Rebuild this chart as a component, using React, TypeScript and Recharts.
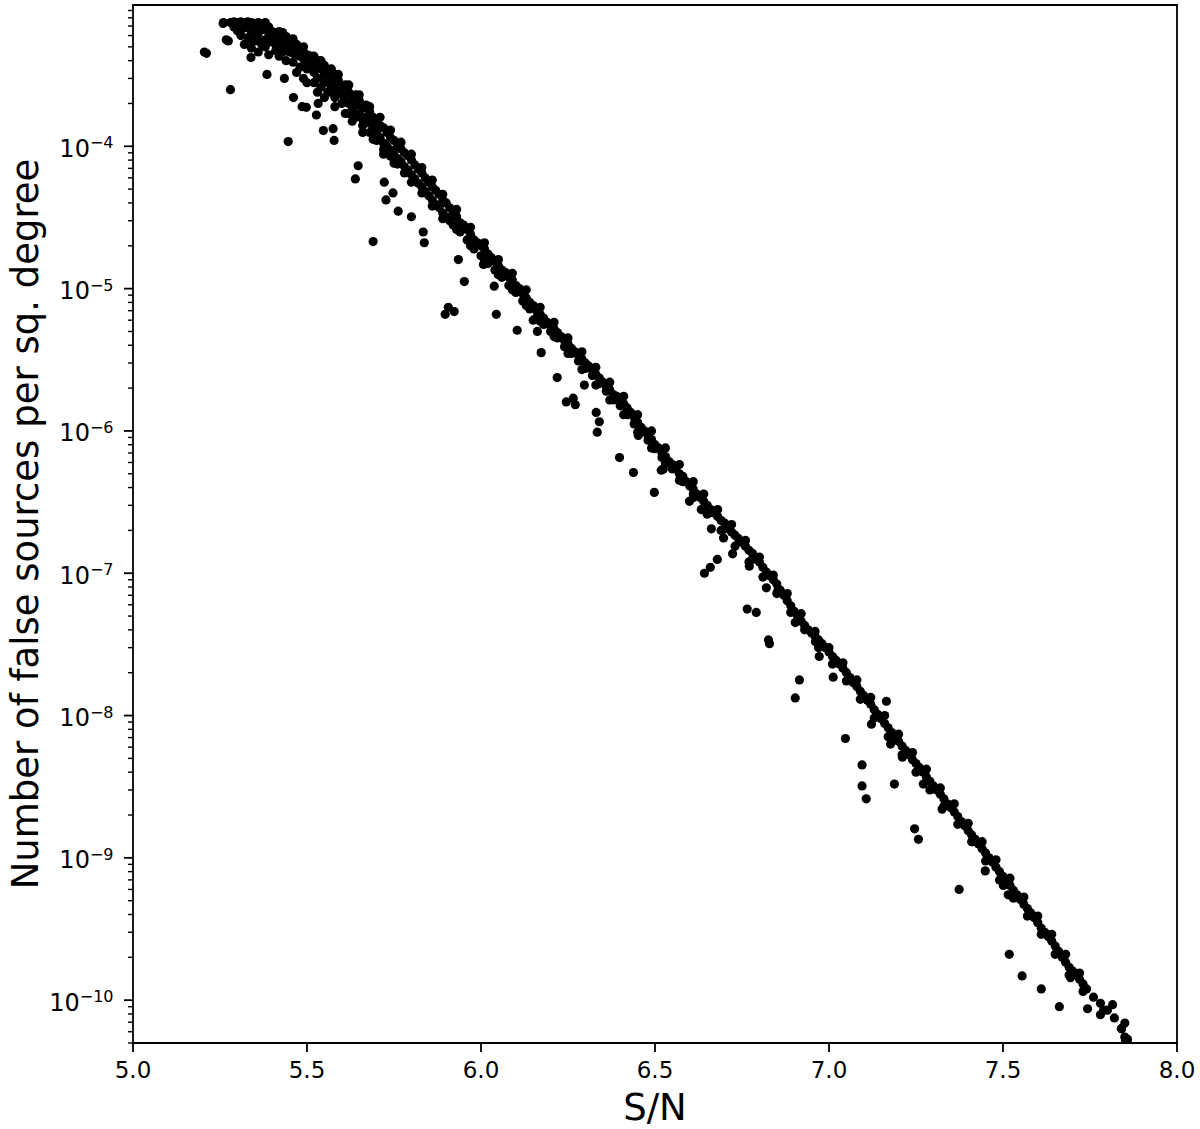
import React from 'react';
import { ScatterChart, Scatter, XAxis, YAxis, ReferenceArea } from 'recharts';

// S/N tick values on the x axis
const SNR_TICKS = [5.0, 5.5, 6.0, 6.5, 7.0, 7.5, 8.0];

// log axis: decades and mantissas used for major/minor ticks
const DECADES = [-11, -10, -9, -8, -7, -6, -5, -4];
const MANTISSAS = [1, 2, 3, 4, 5, 6, 7, 8, 9];
const Y_MIN = 5e-11;
const Y_MAX = 9.84e-4;

// [S/N, false sources per sq. degree]

// dense cluster at the high end
const topCluster: [number, number][] = [
  [5.26, 7.4e-4], [5.28, 7.4e-4], [5.29, 7.5e-4], [5.30, 7.4e-4], [5.31, 7.5e-4], [5.32, 7.4e-4], [5.33, 7.5e-4],
  [5.34, 7.4e-4], [5.35, 7.3e-4], [5.36, 7.4e-4], [5.37, 7.2e-4], [5.38, 7.4e-4],
  [5.29, 6.9e-4], [5.30, 7.1e-4], [5.30, 6.5e-4], [5.31, 6.0e-4], [5.31, 6.6e-4], [5.32, 6.8e-4], [5.33, 5.8e-4],
  [5.33, 6.9e-4], [5.34, 6.4e-4], [5.34, 5.6e-4], [5.35, 5.5e-4], [5.35, 6.1e-4], [5.35, 6.8e-4], [5.36, 6.2e-4],
  [5.36, 5.6e-4], [5.37, 5.2e-4], [5.37, 6.6e-4], [5.38, 6.6e-4], [5.38, 5.6e-4], [5.39, 5.9e-4], [5.39, 6.9e-4],
  [5.40, 6.4e-4], [5.40, 5.9e-4], [5.32, 5.2e-4], [5.34, 4.9e-4], [5.36, 4.6e-4], [5.38, 5.0e-4], [5.39, 4.4e-4],
  [5.40, 5.4e-4], [5.41, 4.7e-4], [5.41, 6.1e-4], [5.41, 5.2e-4], [5.42, 5.7e-4], [5.42, 4.3e-4], [5.42, 6.4e-4],
  [5.43, 5.1e-4], [5.43, 6.3e-4], [5.43, 4.6e-4], [5.44, 5.9e-4], [5.44, 4.0e-4], [5.44, 5.3e-4], [5.45, 4.6e-4],
  [5.45, 5.4e-4], [5.45, 5.0e-4], [5.46, 3.9e-4], [5.46, 5.0e-4], [5.46, 5.7e-4], [5.46, 4.5e-4], [5.47, 4.4e-4],
  [5.47, 5.2e-4], [5.47, 3.3e-4], [5.48, 4.8e-4], [5.48, 3.6e-4], [5.48, 4.3e-4], [5.49, 4.1e-4], [5.49, 5.0e-4],
  [5.49, 4.6e-4], [5.49, 3.0e-4], [5.50, 4.4e-4], [5.50, 3.5e-4], [5.50, 3.9e-4], [5.50, 2.8e-4], [5.51, 3.9e-4],
  [5.51, 4.3e-4], [5.51, 3.5e-4], [5.52, 3.3e-4], [5.52, 3.7e-4], [5.52, 4.3e-4], [5.52, 2.8e-4], [5.53, 4.0e-4],
  [5.53, 3.0e-4], [5.53, 2.4e-4], [5.53, 3.5e-4], [5.54, 3.5e-4], [5.54, 4.0e-4], [5.54, 2.6e-4], [5.55, 3.2e-4],
  [5.55, 3.7e-4], [5.55, 2.8e-4], [5.55, 2.2e-4], [5.56, 2.9e-4], [5.56, 3.3e-4], [5.56, 2.4e-4], [5.57, 3.0e-4],
  [5.57, 2.6e-4], [5.57, 3.5e-4], [5.57, 2.4e-4],
];

// main ridge of the band
const bandCore: [number, number][] = [
  [5.58, 2.8e-4], [5.58, 3.2e-4], [5.58, 2.2e-4], [5.58, 1.9e-4], [5.59, 2.5e-4], [5.59, 2.9e-4], [5.59, 3.2e-4],
  [5.60, 2.6e-4], [5.60, 2.3e-4], [5.60, 2.0e-4], [5.61, 2.7e-4], [5.61, 2.1e-4], [5.61, 1.7e-4], [5.62, 2.4e-4],
  [5.62, 2.0e-4], [5.62, 2.7e-4], [5.62, 1.7e-4], [5.63, 2.2e-4], [5.63, 1.8e-4], [5.63, 1.5e-4], [5.64, 2.3e-4],
  [5.64, 1.95e-4], [5.64, 1.6e-4], [5.65, 2.1e-4], [5.65, 1.7e-4], [5.65, 2.3e-4], [5.66, 1.85e-4], [5.66, 1.55e-4],
  [5.66, 1.4e-4], [5.66, 1.25e-4], [5.67, 1.95e-4], [5.67, 1.6e-4], [5.68, 1.75e-4], [5.68, 1.45e-4], [5.68, 1.9e-4],
  [5.68, 1.25e-4], [5.69, 1.6e-4], [5.69, 1.35e-4], [5.69, 1.12e-4], [5.70, 1.5e-4], [5.70, 1.25e-4], [5.70, 1.1e-4],
  [5.71, 1.4e-4], [5.71, 1.15e-4], [5.71, 1.6e-4], [5.72, 1.35e-4], [5.72, 1.05e-4], [5.72, 9.5e-5], [5.72, 8.8e-5],
  [5.73, 1.25e-4], [5.73, 1.0e-4], [5.74, 1.15e-4], [5.74, 9.4e-5], [5.74, 1.3e-4], [5.74, 8.5e-5], [5.75, 1.1e-4],
  [5.75, 8.8e-5], [5.75, 7.6e-5], [5.76, 1.0e-4], [5.76, 8.2e-5], [5.76, 7.5e-5], [5.77, 9.6e-5], [5.77, 7.8e-5],
  [5.77, 1.07e-4], [5.78, 9.0e-5], [5.78, 7.2e-5], [5.78, 6.5e-5], [5.79, 8.6e-5], [5.79, 6.8e-5], [5.80, 8.0e-5],
  [5.80, 6.3e-5], [5.80, 8.8e-5], [5.80, 5.6e-5], [5.81, 7.4e-5], [5.81, 5.9e-5], [5.82, 6.9e-5], [5.82, 5.5e-5],
  [5.83, 6.5e-5], [5.83, 5.2e-5], [5.83, 7.1e-5], [5.83, 4.7e-5], [5.84, 6.0e-5], [5.84, 4.8e-5], [5.85, 5.6e-5],
  [5.85, 4.5e-5], [5.86, 5.2e-5], [5.86, 4.2e-5], [5.86, 5.8e-5], [5.86, 3.8e-5], [5.87, 4.9e-5], [5.87, 3.9e-5],
  [5.88, 4.6e-5], [5.88, 3.7e-5], [5.89, 4.2e-5], [5.89, 3.4e-5], [5.89, 4.6e-5], [5.89, 3.1e-5], [5.90, 4.0e-5],
  [5.90, 3.2e-5], [5.91, 3.7e-5], [5.91, 3.0e-5], [5.92, 3.4e-5], [5.92, 2.8e-5], [5.93, 3.2e-5], [5.93, 3.6e-5],
  [5.93, 2.6e-5], [5.94, 2.9e-5], [5.94, 2.5e-5], [5.95, 2.8e-5], [5.96, 2.6e-5], [5.96, 2.2e-5], [5.97, 2.4e-5],
  [5.97, 2.7e-5], [5.97, 2.0e-5], [5.98, 2.2e-5], [5.98, 1.9e-5], [5.99, 2.1e-5], [6.00, 2.0e-5], [6.00, 1.7e-5],
  [6.01, 1.9e-5], [6.01, 2.1e-5], [6.01, 1.6e-5], [6.02, 1.75e-5], [6.02, 1.5e-5], [6.03, 1.65e-5], [6.04, 1.55e-5],
  [6.04, 1.35e-5], [6.05, 1.45e-5], [6.05, 1.6e-5], [6.05, 1.25e-5], [6.06, 1.35e-5], [6.06, 1.2e-5], [6.07, 1.3e-5],
  [6.08, 1.2e-5], [6.08, 1.05e-5], [6.09, 1.15e-5], [6.09, 1.28e-5], [6.09, 9.8e-6], [6.10, 1.05e-5], [6.10, 9.4e-6],
  [6.11, 1.0e-5], [6.12, 9.2e-6], [6.12, 8.2e-6], [6.13, 8.6e-6], [6.13, 9.8e-6], [6.13, 7.6e-6], [6.14, 8.0e-6],
  [6.14, 7.2e-6], [6.15, 7.6e-6], [6.16, 7.0e-6], [6.16, 6.3e-6], [6.17, 6.6e-6], [6.17, 7.4e-6], [6.17, 5.9e-6],
  [6.18, 6.2e-6], [6.18, 5.6e-6], [6.19, 5.8e-6], [6.20, 5.5e-6], [6.20, 5.0e-6], [6.21, 5.2e-6], [6.21, 5.8e-6],
  [6.21, 4.6e-6], [6.22, 4.9e-6], [6.22, 4.5e-6], [6.23, 4.6e-6], [6.24, 4.3e-6], [6.24, 3.9e-6], [6.25, 4.1e-6],
  [6.25, 4.5e-6], [6.25, 3.5e-6], [6.26, 3.8e-6], [6.26, 3.5e-6], [6.27, 3.6e-6], [6.28, 3.4e-6], [6.28, 3.1e-6],
  [6.29, 3.2e-6], [6.29, 3.6e-6], [6.29, 2.7e-6], [6.30, 3.0e-6], [6.30, 2.75e-6], [6.31, 2.85e-6], [6.32, 2.7e-6],
  [6.32, 2.45e-6], [6.33, 2.5e-6], [6.33, 2.8e-6], [6.33, 2.1e-6], [6.34, 2.35e-6], [6.34, 2.15e-6], [6.35, 2.2e-6],
  [6.36, 2.05e-6], [6.36, 1.9e-6], [6.37, 1.95e-6], [6.37, 2.2e-6], [6.37, 1.65e-6], [6.38, 1.8e-6], [6.38, 1.65e-6],
  [6.39, 1.75e-6], [6.40, 1.65e-6], [6.40, 1.5e-6], [6.41, 1.55e-6], [6.41, 1.75e-6], [6.41, 1.3e-6], [6.42, 1.45e-6],
  [6.42, 1.3e-6], [6.43, 1.35e-6], [6.44, 1.25e-6], [6.44, 1.12e-6], [6.45, 1.15e-6], [6.45, 1.3e-6], [6.45, 9.8e-7],
  [6.46, 1.06e-6], [6.46, 9.8e-7], [6.47, 1.0e-6], [6.48, 9.3e-7], [6.48, 8.6e-7], [6.49, 8.7e-7], [6.49, 1.0e-6],
  [6.49, 7.6e-7], [6.50, 8.0e-7], [6.50, 7.5e-7], [6.51, 7.6e-7], [6.52, 7.0e-7], [6.52, 6.5e-7], [6.53, 6.6e-7],
  [6.53, 7.6e-7], [6.53, 5.9e-7], [6.54, 6.1e-7], [6.55, 5.8e-7], [6.55, 5.4e-7], [6.56, 5.4e-7], [6.57, 5.0e-7],
  [6.57, 5.8e-7], [6.57, 4.5e-7], [6.58, 4.8e-7], [6.58, 4.4e-7], [6.59, 4.4e-7], [6.60, 4.1e-7], [6.61, 3.9e-7],
  [6.61, 3.6e-7], [6.61, 4.4e-7], [6.61, 3.4e-7], [6.62, 3.6e-7], [6.63, 3.4e-7], [6.64, 3.2e-7], [6.64, 3.6e-7],
  [6.65, 3.0e-7], [6.65, 2.8e-7], [6.65, 2.6e-7], [6.66, 2.8e-7], [6.67, 2.65e-7], [6.68, 2.5e-7], [6.68, 2.8e-7],
  [6.69, 2.35e-7], [6.69, 2.0e-7], [6.70, 2.25e-7], [6.70, 2.05e-7], [6.71, 2.1e-7], [6.72, 1.95e-7], [6.72, 2.2e-7],
  [6.73, 1.85e-7], [6.73, 1.55e-7], [6.74, 1.75e-7], [6.75, 1.65e-7], [6.76, 1.55e-7], [6.76, 1.7e-7], [6.77, 1.45e-7],
  [6.77, 1.2e-7], [6.78, 1.38e-7], [6.78, 1.25e-7], [6.79, 1.28e-7], [6.80, 1.2e-7], [6.80, 1.3e-7], [6.81, 1.1e-7],
  [6.81, 9.4e-8], [6.82, 1.02e-7], [6.83, 9.6e-8], [6.84, 9.0e-8], [6.84, 9.7e-8], [6.85, 8.4e-8], [6.85, 7.2e-8],
  [6.86, 7.6e-8], [6.87, 7.0e-8], [6.88, 6.4e-8], [6.88, 7.2e-8], [6.89, 5.9e-8], [6.89, 5.3e-8], [6.90, 5.4e-8],
  [6.91, 5.0e-8], [6.91, 4.7e-8], [6.92, 4.6e-8], [6.92, 5.2e-8], [6.93, 4.3e-8], [6.93, 4.0e-8], [6.94, 4.0e-8],
  [6.95, 3.8e-8], [6.96, 3.6e-8], [6.96, 3.9e-8], [6.97, 3.4e-8], [6.97, 3.0e-8], [6.98, 3.2e-8], [6.99, 3.0e-8],
  [7.00, 2.8e-8], [7.00, 3.0e-8], [7.01, 2.6e-8], [7.01, 2.3e-8], [7.02, 2.45e-8], [7.03, 2.3e-8], [7.04, 2.15e-8],
  [7.04, 2.35e-8], [7.05, 2.0e-8], [7.05, 1.75e-8], [7.06, 1.85e-8], [7.07, 1.7e-8], [7.08, 1.6e-8], [7.08, 1.78e-8],
  [7.09, 1.48e-8], [7.09, 1.3e-8], [7.10, 1.38e-8], [7.11, 1.28e-8], [7.12, 1.2e-8], [7.12, 1.34e-8], [7.13, 1.1e-8],
  [7.13, 9.6e-9], [7.14, 1.02e-8], [7.15, 9.5e-9], [7.16, 8.8e-9], [7.16, 1.0e-8], [7.17, 8.2e-9], [7.17, 7.1e-9],
  [7.18, 7.6e-9], [7.19, 7.0e-9], [7.20, 6.6e-9], [7.20, 7.4e-9], [7.21, 6.1e-9], [7.21, 5.3e-9], [7.22, 5.7e-9],
  [7.23, 5.3e-9], [7.24, 4.9e-9], [7.24, 5.5e-9], [7.25, 4.6e-9], [7.25, 4.0e-9], [7.26, 4.3e-9], [7.27, 4.0e-9],
  [7.28, 3.7e-9], [7.28, 4.2e-9], [7.29, 3.45e-9], [7.29, 3.0e-9], [7.30, 3.2e-9], [7.31, 3.0e-9], [7.32, 2.8e-9],
  [7.32, 3.1e-9], [7.33, 2.6e-9], [7.33, 2.3e-9], [7.34, 2.4e-9], [7.35, 2.25e-9], [7.36, 2.1e-9], [7.36, 2.4e-9],
  [7.37, 1.95e-9], [7.37, 1.72e-9], [7.38, 1.8e-9], [7.39, 1.68e-9], [7.40, 1.55e-9], [7.40, 1.75e-9], [7.41, 1.45e-9],
  [7.41, 1.3e-9], [7.42, 1.35e-9], [7.43, 1.25e-9], [7.44, 1.16e-9], [7.44, 1.3e-9], [7.45, 1.08e-9], [7.45, 9.5e-10],
  [7.46, 1.0e-9], [7.47, 9.3e-10], [7.48, 8.6e-10], [7.48, 9.7e-10], [7.49, 8.0e-10], [7.49, 7.0e-10], [7.50, 7.4e-10],
  [7.51, 6.9e-10], [7.52, 6.4e-10], [7.52, 7.2e-10], [7.53, 5.9e-10], [7.53, 5.2e-10], [7.54, 5.5e-10], [7.55, 5.1e-10],
  [7.56, 4.7e-10], [7.56, 5.3e-10], [7.57, 4.4e-10], [7.57, 3.9e-10], [7.58, 4.1e-10], [7.59, 3.8e-10], [7.60, 3.5e-10],
  [7.60, 3.9e-10], [7.61, 3.2e-10], [7.61, 2.9e-10], [7.62, 3.0e-10], [7.63, 2.8e-10], [7.64, 2.6e-10], [7.64, 2.9e-10],
  [7.65, 2.4e-10], [7.65, 2.1e-10], [7.66, 2.2e-10], [7.67, 2.0e-10], [7.68, 1.85e-10], [7.68, 2.1e-10], [7.69, 1.7e-10],
  [7.69, 1.5e-10], [7.70, 1.6e-10], [7.71, 1.5e-10], [7.72, 1.4e-10], [7.72, 1.55e-10], [7.73, 1.3e-10], [7.73, 1.15e-10],
  [7.74, 1.2e-10], [7.76, 1.05e-10], [7.78, 9.5e-11], [7.80, 8.5e-11], [7.82, 7.5e-11], [7.84, 6.3e-11], [7.85, 5.5e-11],
];

// scattered points below the band
const outliers: [number, number][] = [
  [5.205, 4.6e-4], [5.211, 4.5e-4], [5.259, 7.3e-4], [5.268, 5.6e-4], [5.274, 5.5e-4], [5.280, 2.5e-4],
  [5.339, 4.2e-4], [5.385, 3.2e-4], [5.435, 3.0e-4], [5.446, 1.08e-4], [5.461, 2.2e-4], [5.486, 1.9e-4],
  [5.498, 1.88e-4], [5.532, 2.0e-4], [5.527, 1.66e-4], [5.547, 1.29e-4], [5.575, 1.33e-4], [5.578, 1.1e-4],
  [5.647, 7.3e-5], [5.639, 5.9e-5], [5.690, 2.14e-5], [5.722, 5.6e-5], [5.727, 4.2e-5], [5.747, 4.7e-5],
  [5.762, 3.5e-5], [5.800, 3.2e-5], [5.834, 2.5e-5], [5.837, 2.1e-5], [5.897, 6.6e-6], [5.906, 7.4e-6],
  [5.923, 6.9e-6], [5.935, 1.6e-5], [5.952, 1.12e-5], [6.007, 1.48e-5], [6.038, 1.04e-5], [6.044, 6.6e-6],
  [6.104, 5.1e-6], [6.150, 6.0e-6], [6.162, 5.0e-6], [6.173, 3.55e-6], [6.219, 2.37e-6], [6.245, 1.6e-6],
  [6.271, 1.53e-6], [6.265, 1.7e-6], [6.297, 2.1e-6], [6.331, 1.35e-6], [6.340, 1.16e-6], [6.334, 9.8e-7],
  [6.398, 6.5e-7], [6.438, 5.1e-7], [6.452, 9.3e-7], [6.493, 7.6e-7], [6.518, 5.3e-7], [6.498, 3.7e-7],
  [6.599, 3.2e-7], [6.633, 2.8e-7], [6.524, 5.4e-7], [6.662, 2.05e-7], [6.697, 1.77e-7], [6.723, 1.37e-7],
  [6.679, 1.25e-7], [6.659, 1.1e-7], [6.642, 1.0e-7], [6.771, 1.12e-7], [6.820, 7.9e-8], [6.854, 7.7e-8],
  [6.765, 5.6e-8], [6.791, 5.3e-8], [6.826, 3.4e-8], [6.829, 3.2e-8], [6.903, 4.5e-8], [6.961, 3.3e-8],
  [6.972, 2.6e-8], [6.915, 1.78e-8], [6.903, 1.33e-8], [7.012, 1.86e-8], [7.047, 6.9e-9], [7.095, 4.5e-9],
  [7.095, 3.2e-9], [7.107, 2.6e-9], [7.122, 8.7e-9], [7.165, 1.26e-8], [7.177, 6.3e-9], [7.188, 3.3e-9],
  [7.211, 5.1e-9], [7.246, 1.6e-9], [7.257, 1.35e-9], [7.271, 3.3e-9], [7.325, 2.2e-9], [7.374, 6.0e-10],
  [7.412, 1.3e-9], [7.449, 8.1e-10], [7.501, 6.4e-10], [7.515, 5.5e-10], [7.518, 2.1e-10], [7.555, 1.48e-10],
  [7.610, 1.2e-10], [7.662, 9.0e-11], [7.694, 1.44e-10], [7.743, 8.7e-11], [7.780, 7.9e-11], [7.789, 8.5e-11],
  [7.815, 9.3e-11], [7.841, 6.3e-11], [7.850, 6.9e-11], [7.852, 5.2e-11], [7.858, 5.3e-11],
];

const points = [...topCluster, ...bandCore, ...outliers].map(([snr, density]) => ({ snr, density }));

const yTicks: number[] = [];
DECADES.forEach(e => {
  MANTISSAS.forEach(m => {
    const v = m * Math.pow(10, e);
    if (v >= Y_MIN * 0.999 && v <= Y_MAX) yTicks.push(v);
  });
});

const FONT = 'DejaVu Sans';

const LogTick = (props: any) => {
  const { x, y, payload } = props;
  const v = payload.value;
  const lg = Math.log10(v);
  const exp = Math.round(lg);
  const major = Math.abs(lg - exp) < 1e-6;
  return (
    <g>
      <line x1={x - (major ? 9 : 5)} x2={x} y1={y} y2={y} stroke="#000" strokeWidth={major ? 1.8 : 1.4} />
      {major && (
        <text x={x - 19.5} y={y + 10.5} textAnchor="end" fontSize={24} fontFamily={FONT} fill="#000">
          10<tspan fontSize={16} dy={-8.5}>{'\u2212' + Math.abs(exp)}</tspan>
        </text>
      )}
    </g>
  );
};

const Dot = (p: any) => <circle cx={p.cx} cy={p.cy} r={4.6} fill="#000" />;

const XTitle = (props: any) => {
  const vb = props.viewBox || { x: 133, y: 1043, width: 1044 };
  return (
    <text x={vb.x + vb.width / 2} y={vb.y + 77} textAnchor="middle" fontSize={37} fontFamily={FONT} fill="#000">
      S/N
    </text>
  );
};

const YTitle = (props: any) => {
  const vb = props.viewBox || { x: 0, y: 5, height: 1038 };
  const cy = vb.y + vb.height / 2;
  return (
    <text x={38} y={cy} transform={`rotate(-90, 38, ${cy})`} textAnchor="middle" fontSize={37} fontFamily={FONT} fill="#000">
      Number of false sources per sq. degree
    </text>
  );
};

export default function App() {
  return (
    <div style={{ position: 'absolute', left: 0, top: 0, width: 1200, height: 1129, background: '#fff' }}>
      <ScatterChart width={1200} height={1129} margin={{ top: 5, right: 23, bottom: 0, left: 0 }}>
        <XAxis
          type="number"
          dataKey="snr"
          domain={[5, 8]}
          ticks={SNR_TICKS}
          interval={0}
          allowDataOverflow
          height={86}
          tickSize={9}
          tickMargin={10}
          axisLine={false}
          tickLine={{ stroke: '#000', strokeWidth: 1.8 }}
          tick={{ fill: '#000', fontSize: 23, fontFamily: FONT }}
          tickFormatter={(v: number) => v.toFixed(1)}
          label={XTitle}
        />
        <YAxis
          type="number"
          dataKey="density"
          scale="log"
          domain={[Y_MIN, Y_MAX]}
          ticks={yTicks}
          interval={0}
          allowDataOverflow
          width={133}
          tickSize={0}
          tickMargin={0}
          axisLine={false}
          tickLine={false}
          tick={<LogTick />}
          label={YTitle}
        />
        <Scatter data={points} fill="#000" shape={Dot} isAnimationActive={false} />
        <ReferenceArea x1={5} x2={8} y1={Y_MIN} y2={Y_MAX} fill="none" stroke="#000" strokeWidth={1.8} ifOverflow="visible" />
      </ScatterChart>
    </div>
  );
}
